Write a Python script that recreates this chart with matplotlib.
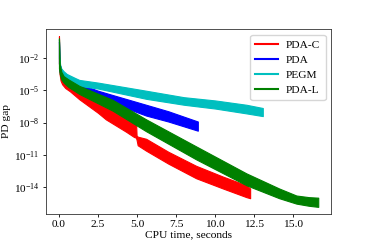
import matplotlib
matplotlib.use("Agg")
import matplotlib.pyplot as plt
import numpy as np
from matplotlib.ticker import NullLocator

plt.rcParams["font.family"] = ["Liberation Serif", "DejaVu Serif"]
plt.rcParams["mathtext.fontset"] = "stix"
plt.rcParams["font.size"] = 8.2

# log10 of the PD gap, lower / upper edge of each noisy band
red_x = [0.0, 0.04, 0.1, 0.2, 0.4, 0.7, 1.3, 2.5, 3.0, 4.3, 4.8, 4.93, 4.97, 5.04, 5.58, 7.0, 8.78, 10.5, 12.0, 12.24]
red_lo = [-2.5, -3.5, -4.1, -4.45, -4.8, -5.1, -5.84, -7.1, -7.7, -8.85, -9.33, -9.4, -9.6, -10.1, -10.6, -11.8, -13.15, -14.1, -14.9, -15.0]
red_hi = [0.0, -2.6, -3.3, -3.7, -4.1, -4.4, -4.9, -5.7, -6.1, -7.1, -7.6, -7.8, -9.2, -9.3, -9.5, -10.7, -12.0, -13.0, -13.8, -14.1]

blue_x = [0.0, 0.05, 0.15, 0.3, 0.6, 1.3, 2.5, 3.44, 5.58, 7.0, 8.89]
blue_lo = [-2.5, -3.3, -3.8, -4.1, -4.5, -4.95, -5.75, -6.2, -7.35, -7.9, -8.75]
blue_hi = [-0.5, -2.6, -3.1, -3.5, -3.9, -4.4, -5.05, -5.45, -6.35, -6.95, -7.9]

cyan_x = [0.0, 0.03, 0.08, 0.15, 0.3, 0.5, 1.0, 1.3, 2.5, 5.58, 8.0, 10.0, 12.0, 13.05]
cyan_lo = [-2.0, -2.8, -3.3, -3.6, -3.9, -4.1, -4.4, -4.6, -4.85, -5.8, -6.35, -6.7, -7.15, -7.4]
cyan_hi = [-0.3, -2.0, -2.7, -3.0, -3.25, -3.5, -3.85, -4.05, -4.3, -5.05, -5.65, -5.95, -6.35, -6.65]

green_x = [0.0, 0.05, 0.15, 0.3, 0.6, 1.3, 3.44, 5.58, 8.78, 12.0, 14.1, 15.2, 16.0, 16.6]
green_lo = [-3.0, -3.5, -4.0, -4.3, -4.7, -5.35, -6.9, -8.8, -11.4, -13.8, -15.0, -15.5, -15.7, -15.8]
green_hi = [-0.2, -2.6, -3.3, -3.7, -4.0, -4.6, -5.9, -7.7, -10.2, -12.7, -14.1, -14.75, -14.9, -14.95]

series = [
    ("PDA-C", "r", red_x, red_lo, red_hi),
    ("PDA", "b", blue_x, blue_lo, blue_hi),
    ("PEGM", "c", cyan_x, cyan_lo, cyan_hi),
    ("PDA-L", "g", green_x, green_lo, green_hi),
]

yticks = [1e-14, 1e-11, 1e-8, 1e-5, 1e-2]

fig = plt.figure(figsize=(3.68, 2.45), dpi=100)
ax = fig.add_axes([0.125, 0.127, 0.775, 0.755])

for name, col, x, lo, hi in series:
    lo_v = 10.0 ** np.array(lo)
    hi_v = 10.0 ** np.array(hi)
    ax.fill_between(x, lo_v, hi_v, color=col, lw=0.8, edgecolor=col)
    ax.plot([], [], color=col, lw=1.5, label=name)

ax.set_yscale("log")
ax.set_yticks(yticks)
ax.yaxis.set_minor_locator(NullLocator())
ax.set_xlim(-0.83, 17.43)
ax.set_ylim(10 ** -16.45, 10 ** 0.67)
ax.set_xticks([0, 2.5, 5, 7.5, 10, 12.5, 15])
ax.set_xlabel("CPU time, seconds", labelpad=1)
ax.set_ylabel("PD gap", labelpad=2)
ax.tick_params(length=2.5, width=0.6, pad=2)
for s in ax.spines.values():
    s.set_linewidth(0.6)
    s.set_color("#333333")
ax.legend(loc="upper right", handlelength=2.0, borderpad=0.45, labelspacing=0.45,
          handletextpad=0.7, framealpha=0.8, fancybox=True)

fig.savefig("out.png", dpi=100, facecolor="white")
